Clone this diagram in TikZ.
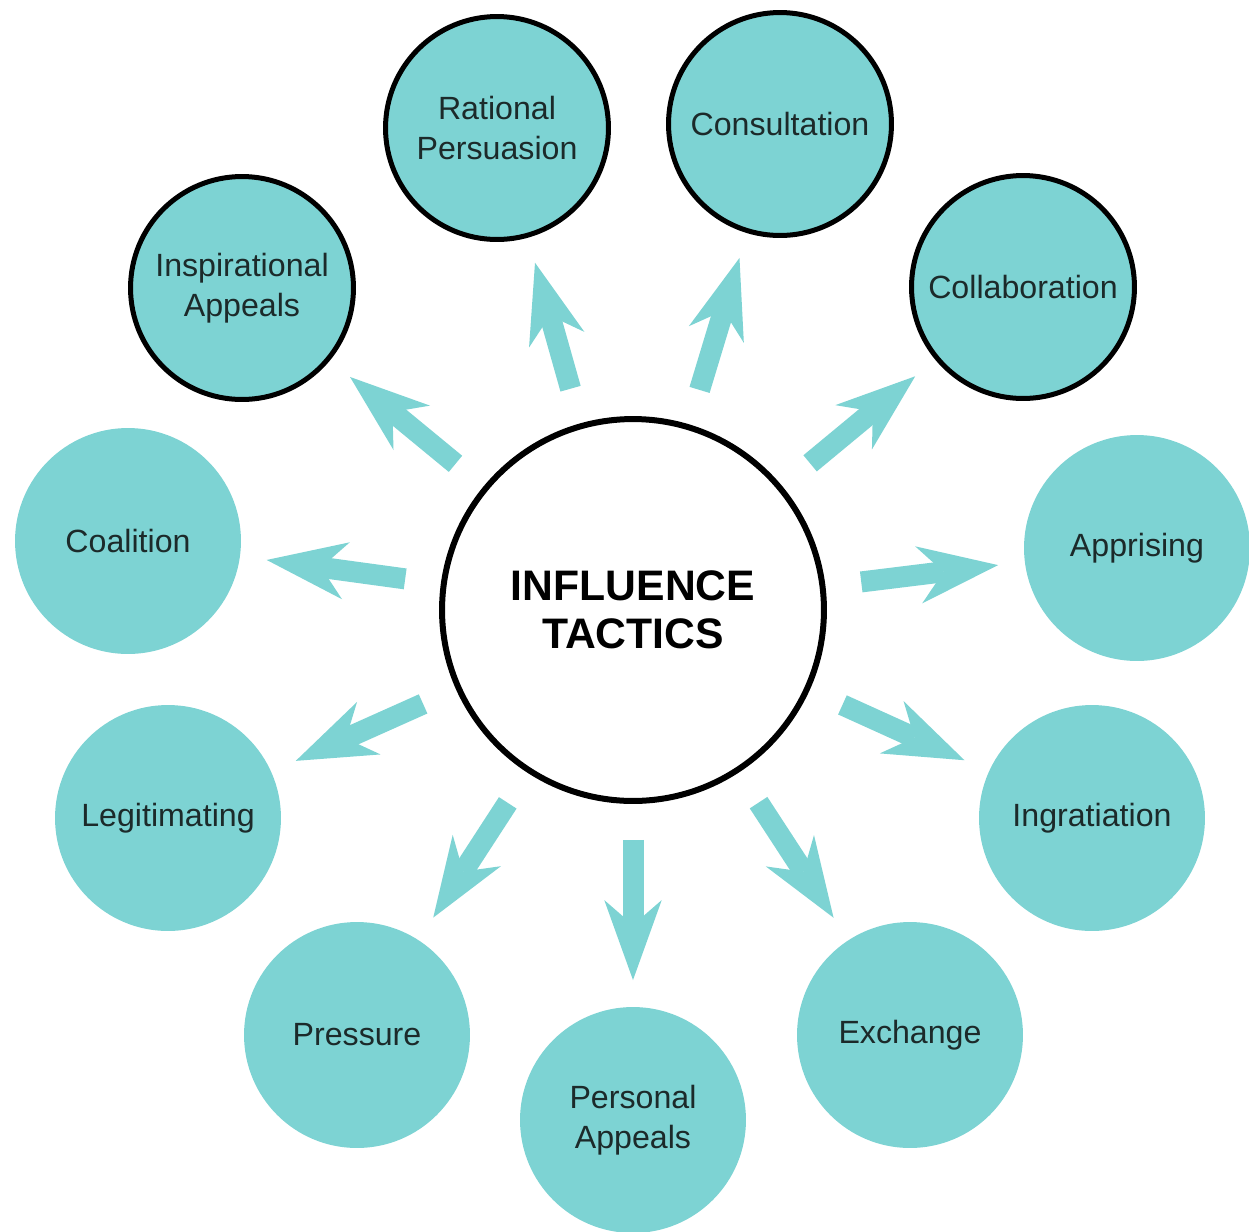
\documentclass[tikz,border=0pt]{standalone}
\usepackage{fontspec}
\setmainfont{Liberation Sans}
\usetikzlibrary{arrows.meta, positioning}
\definecolor{tacticteal}{RGB}{125,211,211}
\definecolor{tactictext}{RGB}{28,42,42}
\tikzset{
x=0.02cm, y=-0.02cm, % one unit is one pixel of the layout
tactic/.style={circle, fill=tacticteal, minimum size=4.52cm, inner sep=0pt, align=center, text=tactictext, font=\fontsize{18.3}{22.8}\selectfont}, % the plain tactic discs
keytactic/.style={tactic, draw=black, line width=0.1cm, minimum size=4.46cm}, % discs with a black rim
hub/.style={circle, draw=black, line width=0.12cm, minimum size=7.64cm, align=center, font=\bfseries\fontsize{24.3}{27}\selectfont}, % the centre
push/.style={tacticteal, line width=0.42cm, -{Stealth[length=1.6cm, width=1.15cm, inset=0.5cm, line width=0pt]}, shorten <=4.6cm, shorten >=2.8cm}, % the thick arrows
}

\begin{document}
\begin{tikzpicture}
    \useasboundingbox (0,0) rectangle (1249,1232);

    \node[hub] (IT) at (633,610) {INFLUENCE\\TACTICS};
    \node[keytactic] (IA) at (242,288) {Inspirational\\Appeals};
    \node[keytactic] (RP) at (497,128) {Rational\\Persuasion};
    \node[keytactic] (CON) at (780,124) {Consultation};
    \node[keytactic] (COL) at (1023,287) {Collaboration};
    \node[tactic] (COA) at (128,541) {Coalition};
    \node[tactic] (APP) at (1137,548) {Apprising};
    \node[tactic] (LEG) at (168,818) {Legitimating};
    \node[tactic] (ING) at (1092,818) {Ingratiation};
    \node[tactic] (PRE) at (357,1035) {Pressure};
    \node[tactic] (PA) at (633,1120) {Personal\\Appeals};
    \node[tactic] (EXC) at (910,1035) {Exchange};

    \path[push] (IT.center) edge (IA.center)
          (IT.center) edge (RP.center)
          (IT.center) edge (CON.center)
          (IT.center) edge (COL.center)
          (IT.center) edge (COA.center)
          (IT.center) edge (APP.center)
          (IT.center) edge (LEG.center)
          (IT.center) edge (ING.center)
          (IT.center) edge (PRE.center)
          (IT.center) edge (PA.center)
          (IT.center) edge (EXC.center);
\end{tikzpicture}
\end{document}
